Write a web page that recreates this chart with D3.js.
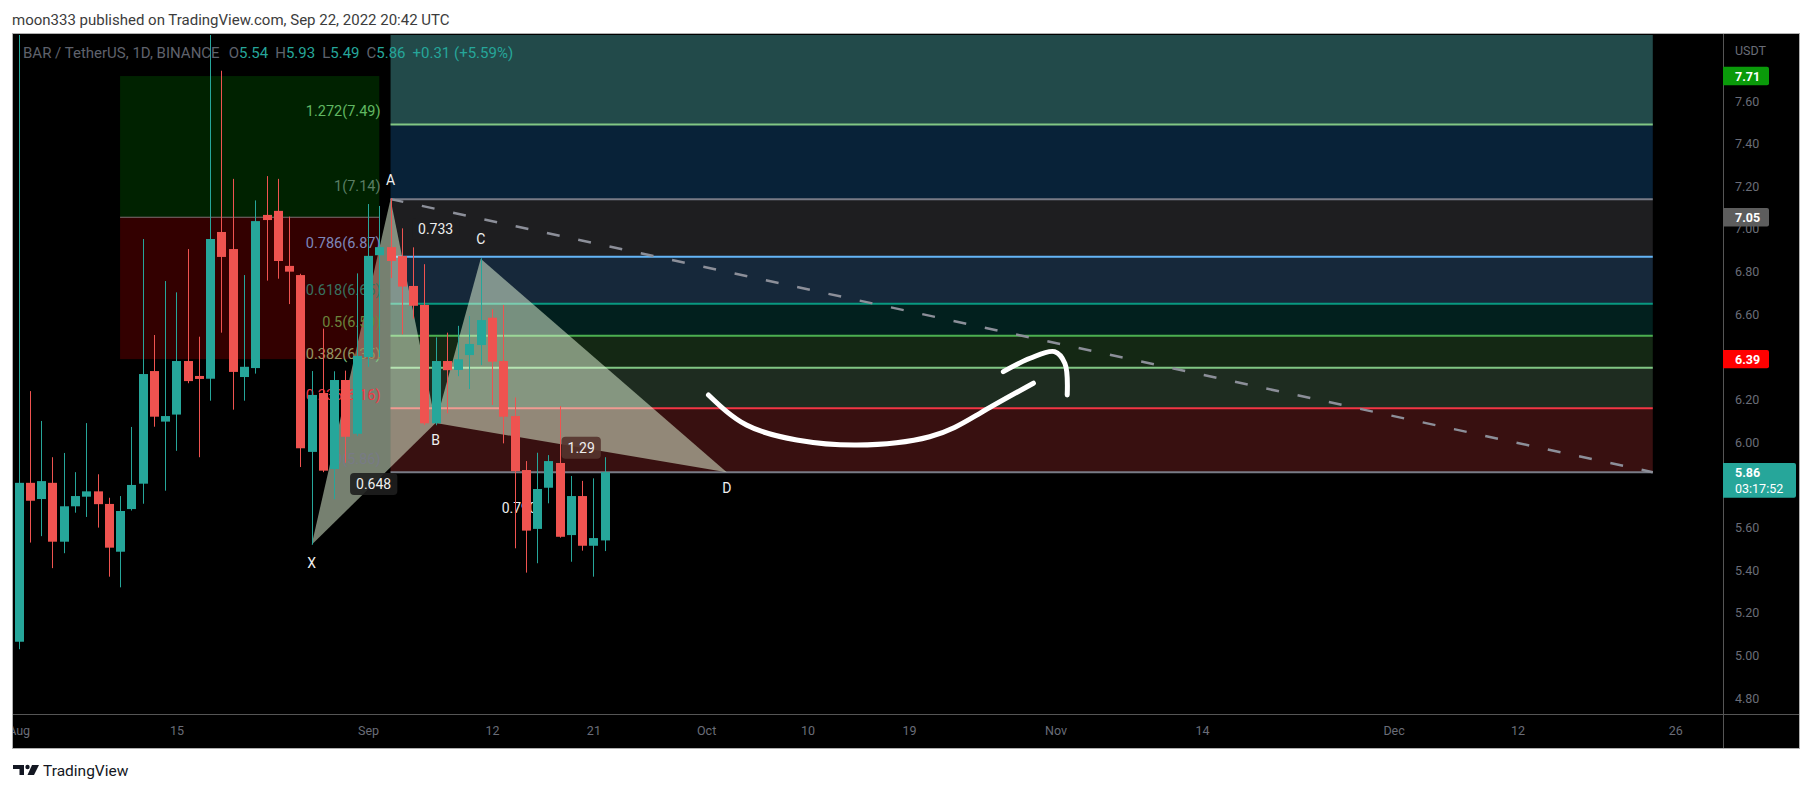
<!DOCTYPE html>
<html><head><meta charset="utf-8">
<script src="https://cdn.jsdelivr.net/npm/d3@7"></script>
<style>html,body{margin:0;padding:0;background:#fff;}svg{display:block;}</style>
</head><body>
<svg id="c" width="1813" height="793"></svg>
<script>
// ---------------- DATA ----------------
const dates = ["2022-08-01","2022-08-02","2022-08-03","2022-08-04","2022-08-05","2022-08-06","2022-08-07","2022-08-08","2022-08-09","2022-08-10",
"2022-08-11","2022-08-12","2022-08-13","2022-08-14","2022-08-15","2022-08-16","2022-08-17","2022-08-18","2022-08-19","2022-08-20",
"2022-08-21","2022-08-22","2022-08-23","2022-08-24","2022-08-25","2022-08-26","2022-08-27","2022-08-28","2022-08-29","2022-08-30",
"2022-08-31","2022-09-01","2022-09-02","2022-09-03","2022-09-04","2022-09-05","2022-09-06","2022-09-07","2022-09-08","2022-09-09",
"2022-09-10","2022-09-11","2022-09-12","2022-09-13","2022-09-14","2022-09-15","2022-09-16","2022-09-17","2022-09-18","2022-09-19",
"2022-09-20","2022-09-21","2022-09-22"];
const open  = [5.065,5.81,5.734,5.81,5.534,5.70,5.745,5.77,5.711,5.487, 5.687,5.806,6.334,6.097,6.13,6.381,6.311,6.298,6.986,6.906,
               6.306,6.348,7.066,7.085,6.827,6.784,5.955,6.231,5.875,6.292, 6.04,6.40,6.877,6.915,6.873,6.733,6.644,6.089,6.381,6.339,
               6.409,6.456,6.584,6.381,6.123,5.87,5.594,5.787,5.903,5.565, 5.748,5.515,5.54];
const high  = [8.20,6.24,6.10,5.93,5.95,5.86,6.09,5.85,5.74,5.748, 6.072,6.953,6.503,6.756,6.703,6.906,6.495,8.30,7.742,7.235,
               6.784,7.134,7.248,7.235,7.058,6.79,6.334,6.533,6.333,6.336, 6.792,7.117,7.108,7.144,7.003,6.914,6.835,6.492,6.514,6.546,
               6.592,6.863,6.624,6.644,6.21,5.912,5.951,5.94,6.17,5.842, 5.819,5.831,5.93];
const low   = [5.03,5.53,5.56,5.41,5.48,5.67,5.65,5.60,5.37,5.32, 5.68,5.712,6.073,5.773,5.96,6.277,5.93,6.195,6.514,6.153,
               6.195,6.322,6.758,6.767,6.648,5.884,5.52,5.86,5.733,5.904, 6.03,6.354,6.40,6.77,6.506,6.58,6.081,6.08,6.136,6.31,
               6.25,6.362,6.175,5.995,5.503,5.389,5.433,5.714,5.553,5.44, 5.492,5.37,5.49];
const close = [5.81,5.726,5.818,5.534,5.70,5.748,5.77,5.71,5.506,5.678, 5.80,6.32,6.12,6.123,6.381,6.287,6.297,6.953,6.869,6.33,
               6.354,7.037,7.042,6.85,6.80,5.972,6.222,5.867,6.292,6.026, 6.405,6.874,6.915,6.85,6.73,6.64,6.089,6.381,6.338,6.389,
               6.461,6.573,6.378,6.12,5.865,5.586,5.781,5.912,5.557,5.748, 5.515,5.551,5.86];

const priceTicks = [4.8,5.0,5.2,5.4,5.6,6.0,6.2,6.4,6.6,6.8,7.0,7.2,7.4,7.6];
const timeTickDates  = ["2022-08-01","2022-08-15","2022-09-01","2022-09-12","2022-09-21","2022-10-01","2022-10-10","2022-10-19","2022-11-01","2022-11-14","2022-12-01","2022-12-12","2022-12-26"];
const timeTickLabels = ["Aug","15","Sep","12","21","Oct","10","19","Nov","14","Dec","12","26"];

// Fibonacci retracement (A -> D)
const fibRatios = ["0","0.236","0.382","0.5","0.618","0.786","1","1.272","1.618"];
const fibPrices = [5.86,6.16,6.35,6.50,6.65,6.87,7.14,7.49,7.93];
const fibStart = "2022-09-03", fibEnd = "2022-12-24";

// Long position tool
const posStart = "2022-08-10", posEnd = "2022-09-02";
const posTarget = 7.717, posEntry = 7.055, posStop = 6.39;

// XABCD pattern
const patLabels = ["X","A","B","C","D"];
const patDates  = ["2022-08-27","2022-09-03","2022-09-07","2022-09-11","2022-10-02T20:00:00Z"];
const patPrices = [5.52,7.14,6.09,6.86,5.86];
const ratioPairs = [[0,2],[1,3],[2,4],[0,4]];
const ratioTexts = ["0.648","0.733","1.29","0.790"];

// hand-drawn arrow (date, price)
const arcDates  = ["2022-10-01T05:00:00Z","2022-10-04T14:00:00Z","2022-10-09T01:00:00Z","2022-10-14T09:00:00Z","2022-10-20T20:00:00Z","2022-10-25T07:00:00Z","2022-10-30T01:00:00Z"];
const arcPrices = [6.222,6.081,6.011,5.987,6.026,6.136,6.277];
const hookDates  = ["2022-10-27T09:00:00Z","2022-10-29T18:00:00Z","2022-10-31T22:00:00Z","2022-11-01T20:00:00Z","2022-11-02T01:00:00Z"];
const hookPrices = [6.331,6.394,6.425,6.37,6.222];

const legendSymbol = "BAR / TetherUS, 1D, BINANCE";
const legendOHLC = [["O","5.54"],["H","5.93"],["L","5.49"],["C","5.86"]];
const legendChange = "+0.31 (+5.59%)";

// ---------------- STYLE ----------------
const fibLineColors = ["#787b86","#f23645","#81c784","#4caf50","#089981","#64b5f6","#787b86","#81c784","#2962ff"];
const fibBandColors = ["#381010","#1e2c20","#142814","#02201e","#16283a","#1e1e20","#082238","#224a4a"];
const ratioBoxColors = ["rgba(30,30,30,0.9)","rgba(30,30,32,0.9)","rgba(85,52,46,0.9)","rgba(0,0,0,0.9)"];
const letterDy = [18,-19,17,-20,16];
const UP="#26a69a", DOWN="#ef5350", AXTXT="#6a6d78";

// ---------------- LAYOUT ----------------
const L=13, R=1723, T=35, B=714, RB=1799, BB=748, TOPB=34;
const P = d => new Date(d.length===10 ? d+"T00:00:00Z" : d);
const svg = d3.select("#c");
const x = d3.scaleUtc()
  .domain([new Date(Date.UTC(2022,6,31,12)), new Date(Date.UTC(2022,8,1) + 120.23*864e5)])
  .range([L,R]);
const y = d3.scaleLinear().domain([4.7262,7.9095]).range([B,T]);

svg.append("rect").attr("width",1813).attr("height",793).attr("fill","#fff");
svg.append("text").attr("x",12).attr("y",20).attr("dominant-baseline","central")
  .attr("font-family","Roboto, sans-serif").attr("font-size",15).attr("fill","#3c3c3c")
  .text("moon333 published on TradingView.com, Sep 22, 2022 20:42 UTC");

svg.append("rect").attr("x",L).attr("y",TOPB).attr("width",RB-L).attr("height",BB-TOPB).attr("fill","#000");

const defs = svg.append("defs");
defs.append("clipPath").attr("id","plot").append("rect").attr("x",L).attr("y",T).attr("width",R-L).attr("height",B-T);
defs.append("clipPath").attr("id","taxis").append("rect").attr("x",L).attr("y",B).attr("width",R-L).attr("height",BB-B);

const g = svg.append("g").attr("clip-path","url(#plot)");

// Fib bands & lines
const fx0 = x(P(fibStart)), fx1 = x(P(fibEnd));
fibBandColors.forEach((c,i)=>{
  g.append("rect").attr("x",fx0).attr("width",fx1-fx0)
   .attr("y",y(fibPrices[i+1])).attr("height",y(fibPrices[i])-y(fibPrices[i+1])).attr("fill",c);
});
fibPrices.forEach((p,i)=>{
  g.append("line").attr("x1",fx0).attr("x2",fx1).attr("y1",y(p)).attr("y2",y(p))
   .attr("stroke",fibLineColors[i]).attr("stroke-width",2);
});

// Dashed trend line (A -> fib end at 0 level)
g.append("line").attr("x1",x(P(patDates[1]))).attr("y1",y(patPrices[1])).attr("x2",fx1).attr("y2",y(fibPrices[0]))
  .attr("stroke","#8c8f99").attr("stroke-width",2.5).attr("stroke-dasharray","13,19");

// XABCD triangles
const pts = patDates.map((d,i)=>[x(P(d)), y(patPrices[i])]);
const poly = d3.line();
g.append("path").attr("d",poly([pts[0],pts[1],pts[2]])+"Z").attr("fill","rgba(236,255,224,0.5)");
g.append("path").attr("d",poly([pts[2],pts[3],pts[4]])+"Z").attr("fill","rgba(236,255,224,0.5)");

// Fib labels
fibPrices.slice(0,8).forEach((p,i)=>{
  g.append("text").attr("x",fx0-10).attr("y",y(p)-13).attr("text-anchor","end").attr("dominant-baseline","central")
   .attr("font-family","Roboto, sans-serif").attr("font-size",14.5).attr("fill",fibLineColors[i])
   .text(`${fibRatios[i]}(${p.toFixed(2)})`);
});

// Position tool
const px0 = x(P(posStart)), px1 = x(P(posEnd));
g.append("rect").attr("x",px0).attr("width",px1-px0).attr("y",y(posTarget)).attr("height",y(posEntry)-y(posTarget)).attr("fill","rgba(0,136,0,0.25)");
g.append("rect").attr("x",px0).attr("width",px1-px0).attr("y",y(posEntry)).attr("height",y(posStop)-y(posEntry)).attr("fill","rgba(204,0,0,0.25)");
g.append("line").attr("x1",px0).attr("x2",px1).attr("y1",y(posEntry)).attr("y2",y(posEntry)).attr("stroke","#7d6f72").attr("stroke-width",1);

// Ratio labels
ratioPairs.forEach(([a,b],i)=>{
  const mx=(pts[a][0]+pts[b][0])/2, my=(pts[a][1]+pts[b][1])/2;
  const t = g.append("text").attr("x",mx).attr("y",my).attr("text-anchor","middle").attr("dominant-baseline","central")
    .attr("font-family","Roboto, sans-serif").attr("font-size",14).attr("fill","#eeeeee").text(ratioTexts[i]);
  const bb = t.node().getBBox();
  g.insert("rect", () => t.node()).attr("x",bb.x-6).attr("y",my-11).attr("width",bb.width+12).attr("height",22).attr("rx",4)
    .attr("fill",ratioBoxColors[i]);
});

// Candles
const cg = g.append("g");
dates.forEach((d,i)=>{
  const cx = Math.round(x(P(d)))+0.5;
  const col = close[i]>=open[i]?UP:DOWN;
  cg.append("line").attr("x1",cx).attr("x2",cx).attr("y1",y(high[i])).attr("y2",y(low[i])).attr("stroke",col).attr("stroke-width",1);
  const top=y(Math.max(open[i],close[i])), bot=y(Math.min(open[i],close[i]));
  cg.append("rect").attr("x",cx-4.5).attr("width",9).attr("y",top).attr("height",Math.max(1,bot-top)).attr("fill",col);
});

// Letters
pts.forEach((p,i)=>{
  g.append("text").attr("x",p[0]).attr("y",p[1]+letterDy[i]).attr("text-anchor","middle").attr("dominant-baseline","central")
   .attr("font-family","Roboto, sans-serif").attr("font-size",14).attr("fill","#f0f0f0").text(patLabels[i]);
});

// Hand drawn arrow
const curve = d3.line().x(d=>x(P(d[0]))).y(d=>y(d[1])).curve(d3.curveNatural);
g.append("path").attr("d",curve(arcDates.map((d,i)=>[d,arcPrices[i]]))).attr("fill","none").attr("stroke","#fff").attr("stroke-width",5).attr("stroke-linecap","round");
g.append("path").attr("d",d3.line().x(d=>x(P(d[0]))).y(d=>y(d[1])).curve(d3.curveCatmullRom)(hookDates.map((d,i)=>[d,hookPrices[i]])))
  .attr("fill","none").attr("stroke","#fff").attr("stroke-width",5).attr("stroke-linecap","round").attr("stroke-linejoin","round");

// Legend
const lg = svg.append("text").attr("x",23).attr("y",53).attr("dominant-baseline","central")
  .attr("font-family","Roboto, sans-serif").attr("font-size",15);
lg.append("tspan").attr("fill","#5f626c").text(legendSymbol);
legendOHLC.forEach(([k,v],i)=>{
  lg.append("tspan").attr("fill","#5f626c").attr("dx", i===0?9:7).text(k);
  lg.append("tspan").attr("fill",UP).text(v);
});
lg.append("tspan").attr("fill",UP).attr("dx",7).text(legendChange);

// Frame lines
svg.append("line").attr("x1",L).attr("x2",RB).attr("y1",B+0.5).attr("y2",B+0.5).attr("stroke","#555");
svg.append("line").attr("x1",R+0.5).attr("x2",R+0.5).attr("y1",TOPB).attr("y2",BB).attr("stroke","#555");
svg.append("rect").attr("x",L-0.5).attr("y",TOPB-0.5).attr("width",RB-L+1).attr("height",BB-TOPB+1).attr("fill","none").attr("stroke","#b0b0b0");

// Price axis
const ya = svg.append("g").attr("transform",`translate(${R},0)`)
  .call(d3.axisRight(y).tickValues(priceTicks).tickFormat(d3.format(".2f")).tickSize(0).tickPadding(12));
ya.select(".domain").remove();
ya.selectAll("text").attr("font-family","Roboto, sans-serif").attr("font-size",12.5).attr("fill",AXTXT);
svg.append("text").attr("x",R+12).attr("y",50).attr("dominant-baseline","central").attr("font-family","Roboto, sans-serif")
  .attr("font-size",12.5).attr("fill",AXTXT).text("USDT");

// Time axis
const xa = svg.append("g").attr("clip-path","url(#taxis)").append("g").attr("transform",`translate(0,${B})`)
  .call(d3.axisBottom(x).tickValues(timeTickDates.map(P)).tickFormat((d,i)=>timeTickLabels[i]).tickSize(0).tickPadding(12));
xa.select(".domain").remove();
xa.selectAll("text").attr("font-family","Roboto, sans-serif").attr("font-size",12.5).attr("fill",AXTXT);

// Price tags
const tags = [[posTarget,"#0a9a0a",null],[posEntry,"#5d5d5d",null],[posStop,"#ff0000",null],[close[close.length-1],UP,"03:17:52"]];
tags.forEach(([v,c,sub])=>{
  const yy=y(v), h= sub?34.7:18.4, w= sub?73:46;
  svg.append("path").attr("d",`M${R},${yy-9.2} h${w-2} q2,0 2,2 v${h-4} q0,2 -2,2 h${-(w-2)} z`).attr("fill",c);
  svg.append("text").attr("x",R+12).attr("y",yy+0.5).attr("dominant-baseline","central").attr("font-family","Roboto, sans-serif")
    .attr("font-size",12.5).attr("font-weight","bold").attr("fill","#fff").text((Math.floor(v*100+1e-6)/100).toFixed(2));
  if(sub) svg.append("text").attr("x",R+12).attr("y",yy+16.5).attr("dominant-baseline","central").attr("font-family","Roboto, sans-serif")
    .attr("font-size",12.5).attr("fill","#fff").text(sub);
});

// Footer logo
const fl = svg.append("g").attr("fill","#131722");
fl.append("path").attr("d","M13,765 h11 v10 h-4.5 v-6 h-6.5 z");
fl.append("circle").attr("cx",27.5).attr("cy",767).attr("r",2.2);
fl.append("path").attr("d","M32,765 h7 l-5,10 h-6.5 z");
svg.append("text").attr("x",43).attr("y",771).attr("dominant-baseline","central").attr("font-family","Roboto, sans-serif")
  .attr("font-size",15.5).attr("fill","#131722").text("TradingView");
</script>
</body></html>
